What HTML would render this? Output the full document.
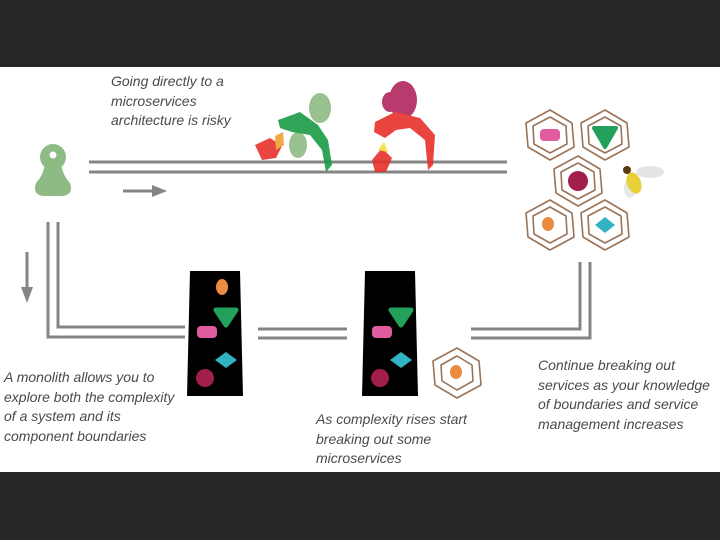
<!DOCTYPE html>
<html><head><meta charset="utf-8"><style>
body{margin:0;width:720px;height:540px;background:#262626;overflow:hidden;position:relative;font-family:"Liberation Sans",sans-serif}
#p{position:absolute;left:0;top:67px;width:720px;height:405px;background:#fff}
.t{position:absolute;font-style:italic;font-size:14px;letter-spacing:0;line-height:19.5px;color:#4a4a4a;white-space:nowrap}
svg{position:absolute;left:0;top:0}
</style></head><body>
<div id="p"></div>
<svg width="720" height="540" viewBox="0 0 720 540">
<g stroke="#858585" stroke-width="3" fill="none">
<line x1="89" y1="162" x2="507" y2="162"/><line x1="89" y1="172" x2="507" y2="172"/>
<polyline points="48,222 48,337 185,337"/><polyline points="58,222 58,327 185,327"/>
<line x1="258" y1="329" x2="347" y2="329"/><line x1="258" y1="338" x2="347" y2="338"/>
<polyline points="471,329 580,329 580,262"/><polyline points="471,338 590,338 590,262"/>
<line x1="123" y1="191" x2="155" y2="191"/><line x1="27" y1="252" x2="27" y2="290"/>
</g>
<polygon points="152,185 167,191 152,197" fill="#858585"/>
<polygon points="21,287 27,303 33,287" fill="#858585"/>
<g fill="#8dbb83"><circle cx="53" cy="157" r="13"/><path d="M45,164 L61,164 Q63,176 70,183 Q74,195 62,196 L44,196 Q32,195 36,183 Q43,176 45,164Z"/></g>
<circle cx="53" cy="155" r="3.5" fill="#fff"/>
<g opacity="0.9">
<ellipse cx="320" cy="108" rx="11" ry="15" fill="#8dbb83"/><ellipse cx="298" cy="145" rx="9" ry="13" fill="#8dbb83"/>
<path d="M278,120 L300,112 L318,125 L328,140 L332,165 L326,172 L322,150 L310,135 L292,132 L280,128Z" fill="#1a9c45"/>
<path d="M255,145 L270,138 L282,146 L276,158 L262,160Z" fill="#e8302a"/>
<path d="M275,136 L283,132 L284,145 L276,150Z" fill="#f0a030"/>
<ellipse cx="403" cy="100" rx="14" ry="19" fill="#b2265e"/><ellipse cx="390" cy="102" rx="8" ry="10" fill="#b2265e"/>
<path d="M375,122 L395,112 L420,118 L435,135 L433,165 L428,170 L425,140 L410,128 L396,130 L385,138 L374,132Z" fill="#e8302a"/>
<path d="M372,160 L382,148 L392,158 L386,172 L375,172Z" fill="#e8302a"/>
<path d="M378,150 L384,142 L388,152Z" fill="#f5e040"/>
</g>
<g fill="none" stroke="#9a7458" stroke-width="1.6" stroke-linejoin="round">
<g transform="translate(550,135)"><polygon points="0,-25 22,-12 24,12 0,25 -22,12 -24,-12"/><polygon points="0,-18 16,-9 17,9 0,18 -16,9 -17,-9"/></g>
<g transform="translate(605,135)"><polygon points="0,-25 22,-12 24,12 0,25 -22,12 -24,-12"/><polygon points="0,-18 16,-9 17,9 0,18 -16,9 -17,-9"/></g>
<g transform="translate(578,181)"><polygon points="0,-25 22,-12 24,12 0,25 -22,12 -24,-12"/><polygon points="0,-18 16,-9 17,9 0,18 -16,9 -17,-9"/></g>
<g transform="translate(550,225)"><polygon points="0,-25 22,-12 24,12 0,25 -22,12 -24,-12"/><polygon points="0,-18 16,-9 17,9 0,18 -16,9 -17,-9"/></g>
<g transform="translate(605,225)"><polygon points="0,-25 22,-12 24,12 0,25 -22,12 -24,-12"/><polygon points="0,-18 16,-9 17,9 0,18 -16,9 -17,-9"/></g>
<g transform="translate(457,373)"><polygon points="0,-25 22,-12 24,12 0,25 -22,12 -24,-12"/><polygon points="0,-17 15,-8 16,8 0,17 -15,8 -16,-8"/></g>
</g>
<rect x="540" y="129" width="20" height="12" rx="4" fill="#e05c9e"/>
<polygon points="594,128 616,128 605,147" fill="#23a05a" stroke="#23a05a" stroke-width="4" stroke-linejoin="round"/>
<circle cx="578" cy="181" r="10" fill="#a21e4c"/>
<ellipse cx="548" cy="224" rx="6" ry="7" fill="#ec8a3f"/>
<polygon points="605,217 615,225 605,233 595,225" fill="#32b3c3"/>
<ellipse cx="456" cy="372" rx="6" ry="7" fill="#ec8a3f"/>
<ellipse cx="650" cy="172" rx="14" ry="6" fill="#ddd" opacity="0.8"/><ellipse cx="630" cy="188" rx="6" ry="10" fill="#ddd" opacity="0.7"/>
<ellipse cx="634" cy="183" rx="7" ry="11" fill="#e8d038" transform="rotate(-20 634 183)"/>
<circle cx="627" cy="170" r="4" fill="#5a3a10"/>
<polygon points="190,271 240,271 243,396 187,396" fill="#000"/>
<polygon points="365,271 415,271 418,396 362,396" fill="#000"/>
<ellipse cx="222" cy="287" rx="6" ry="8" fill="#ec8a3f"/>
<polygon points="216,310 236,310 226,325" fill="#23a05a" stroke="#23a05a" stroke-width="5" stroke-linejoin="round"/>
<rect x="197" y="326" width="20" height="12" rx="4" fill="#e05c9e"/>
<polygon points="226,352 237,360 226,368 215,360" fill="#32b3c3"/>
<circle cx="205" cy="378" r="9" fill="#a21e4c"/>
<polygon points="391,310 411,310 401,325" fill="#23a05a" stroke="#23a05a" stroke-width="5" stroke-linejoin="round"/>
<rect x="372" y="326" width="20" height="12" rx="4" fill="#e05c9e"/>
<polygon points="401,352 412,360 401,368 390,360" fill="#32b3c3"/>
<circle cx="380" cy="378" r="9" fill="#a21e4c"/>
</svg>
<div class="t" style="left:111px;top:72px">Going directly to a<br>microservices<br>architecture is risky</div>
<div class="t" style="left:4px;top:368px">A monolith allows you to<br>explore both the complexity<br>of a system and its<br>component boundaries</div>
<div class="t" style="left:316px;top:410px">As complexity rises start<br>breaking out some<br>microservices</div>
<div class="t" style="left:538px;top:356px">Continue breaking out<br>services as your knowledge<br>of boundaries and service<br>management increases</div>
</body></html>
